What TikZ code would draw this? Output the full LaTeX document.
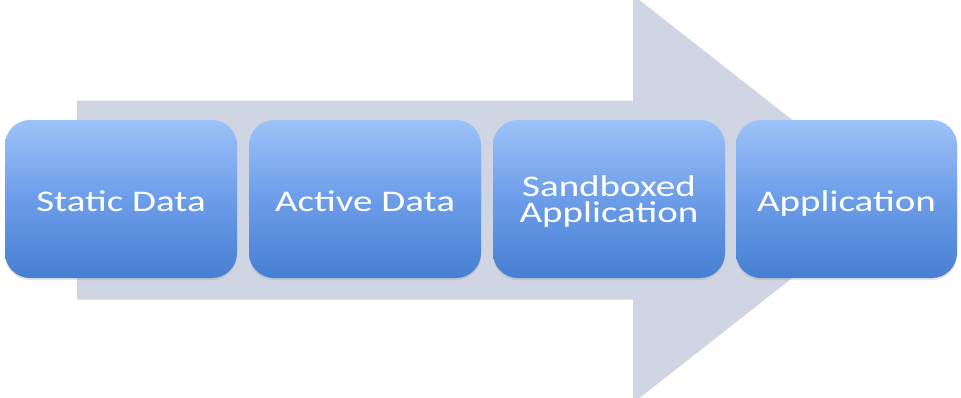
\documentclass[tikz,border=0pt]{standalone}
\usepackage{fontspec}
\usetikzlibrary{shadows}
\newfontfamily\stagefont[FakeStretch=1.3]{Carlito}
\definecolor{arrowfill}{HTML}{CFD5E2}
\definecolor{stagetop}{HTML}{9DC2F8}
\definecolor{stagemid}{HTML}{6C9DE9}
\definecolor{stagebot}{HTML}{467FD2}
\tikzset{
  stagebox/.style={
    rounded corners=25pt, inner sep=0pt,
    top color=stagetop, bottom color=stagebot, middle color=stagemid,
    minimum height=158pt, text=white, align=center,
    text height=28pt, text depth=4pt,
    font=\stagefont\fontsize{30}{26}\selectfont,
    drop shadow={opacity=0.22, shadow xshift=0pt, shadow yshift=-2pt}
  },
  twoline/.style={text height=50pt, text depth=4pt}
}
\begin{document}
\begin{tikzpicture}[x=1pt,y=-1pt]
  \useasboundingbox (0,0) rectangle (961,397);
  % broad background arrow
  \fill[arrowfill] (77,100.5) -- (633,100.5) -- (633,-5) -- (893,199)
    -- (633,403) -- (633,299.5) -- (77,299.5) -- cycle;
  % the four stages
  \node[stagebox, minimum width=232pt] (static) at (121,199) {Static Data};
  \node[stagebox, minimum width=232pt] (active) at (365,199) {Active Data};
  \node[stagebox, twoline, minimum width=232pt] (sandbox) at (609,199) {Sandboxed\\Application};
  \node[stagebox, minimum width=221pt] (app) at (846.5,199) {Application};
\end{tikzpicture}
\end{document}
